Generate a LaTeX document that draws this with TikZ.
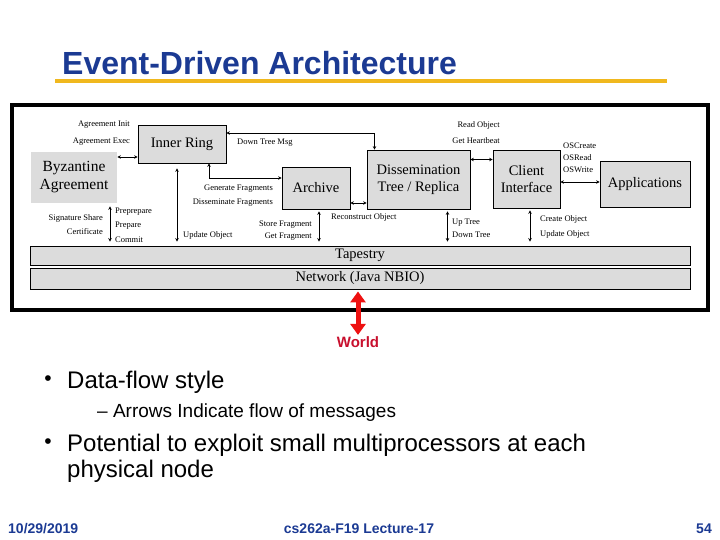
\documentclass[tikz,border=0pt]{standalone}
\usepackage{fontspec}
\setmainfont{Liberation Serif}
\newfontfamily\slidefont{Liberation Sans}
\usetikzlibrary{arrows.meta,positioning}
\definecolor{SlideNavy}{HTML}{1B3A93}
\definecolor{SlideGold}{HTML}{F0B81E}
\definecolor{BoxGray}{HTML}{DCDCDC}
\definecolor{WorldRed}{HTML}{EE1111}
\definecolor{WorldText}{HTML}{C8102E}
\tikzset{
    % grey component boxes
    module/.style={
        rectangle,
        draw=black,
        line width=0.7pt,
        fill=BoxGray,
        inner sep=0pt,
        align=center,
        font=\fontsize{14.5}{17}\selectfont
    },
    module plain/.style={
        module,
        draw=none
    },
    layer/.style={
        module,
        line width=0.9pt
    },
    msg label/.style={
        inner sep=0pt,
        font=\fontsize{8.5}{10}\selectfont
    },
    msg/.style={
        {Stealth[length=3.5pt,width=3.5pt]}-{Stealth[length=3.5pt,width=3.5pt]},
        line width=0.6pt
    },
    world arrow/.style={
        {Triangle[length=11pt,width=15pt]}-{Triangle[length=11pt,width=15pt]},
        line width=5pt,
        color=WorldRed
    },
    bullet dot/.style={
        inner sep=0pt,
        font=\slidefont\fontsize{21}{24}\selectfont
    },
    bullet text/.style={
        anchor=base west,
        inner sep=0pt,
        font=\slidefont\fontsize{24}{28}\selectfont
    },
    sub bullet text/.style={
        bullet text,
        font=\slidefont\fontsize{19}{23}\selectfont
    },
    footer/.style={
        anchor=base,
        inner sep=0pt,
        text=SlideNavy,
        font=\slidefont\bfseries\fontsize{14}{16}\selectfont
    }
}

\begin{document}
\begin{tikzpicture}[x=1pt, y=-1pt]
    \useasboundingbox (0,0) rectangle (720,540);

    % Title
    \node[anchor=base west, inner sep=0pt, text=SlideNavy,
          font=\slidefont\bfseries\fontsize{32}{36}\selectfont] (title) at (62,75)
          {Event-Driven Architecture};
    \draw[SlideGold, line width=4pt] (55,81) -- (667,81);

    % Diagram frame
    \draw[line width=4pt] (12,105) rectangle (708,310);

    % Components
    \node[module, minimum width=88pt, minimum height=38pt] (inner) at (182,144) {Inner Ring};
    \node[module plain, minimum width=86pt, minimum height=51pt,
          font=\fontsize{15.5}{18}\selectfont] (byz) at (74,177.5) {Byzantine\\Agreement};
    \node[module, minimum width=68pt, minimum height=42pt] (archive) at (316,188) {Archive};
    \node[module, minimum width=103pt, minimum height=59pt] (diss) at (418.5,179.5)
          {Dissemination\\Tree / Replica};
    \node[module, minimum width=67pt, minimum height=58pt] (client) at (526.5,179) {Client\\Interface};
    \node[module, minimum width=90pt, minimum height=46pt] (apps) at (645,184) {Applications};

    % Layers
    \node[layer, minimum width=660pt, minimum height=19pt] (tapestry) at (360,255.5) {Tapestry};
    \node[layer, minimum width=660pt, minimum height=21pt] (network) at (360,278.5) {Network (Java NBIO)};

    % Messages between components
    \draw[msg] ([yshift=-13pt]inner.west) -- ([yshift=-13pt]inner.west -| byz.east);
    \draw[msg] ([xshift=27pt]inner.south) |- ([yshift=10pt]archive.west);
    \draw[msg] ([xshift=-44pt]diss.north) |- ([yshift=11pt]inner.east);
    \draw[msg] ([yshift=-15pt]archive.east) -- ([yshift=-15pt]archive.east -| diss.west);
    \draw[msg] ([yshift=20pt]diss.east) -- ([yshift=20pt]diss.east -| client.west);
    \draw[msg] ([yshift=-3pt]client.east) -- ([yshift=-3pt]client.east -| apps.west);

    % Messages down to Tapestry
    \draw[msg, shorten <=3pt, shorten >=4pt] ([xshift=36pt]byz.south) -- ([xshift=36pt]byz.south |- tapestry.north);
    \draw[msg, shorten <=5pt, shorten >=4pt] ([xshift=-5pt]inner.south) -- ([xshift=-5pt]inner.south |- tapestry.north);
    \draw[msg, shorten <=2pt, shorten >=4pt] ([xshift=3pt]archive.south) -- ([xshift=3pt]archive.south |- tapestry.north);
    \draw[msg, shorten <=2pt, shorten >=4pt] ([xshift=29pt]diss.south) -- ([xshift=29pt]diss.south |- tapestry.north);
    \draw[msg, shorten <=2pt, shorten >=4pt] ([xshift=3.5pt]client.south) -- ([xshift=3.5pt]client.south |- tapestry.north);

    % Message labels
    \node[msg label, anchor=east] (agInit) at (130,125) {Agreement Init};
    \node[msg label, anchor=east] (agExec) at (130,142) {Agreement Exec};
    \node[msg label, anchor=east] (sigShare) at (103,218) {Signature Share};
    \node[msg label, anchor=east] (cert) at (103,232) {Certificate};
    \node[msg label, anchor=west] (prePrep) at (115,212) {Preprepare};
    \node[msg label, anchor=west] (prep) at (115,226) {Prepare};
    \node[msg label, anchor=west] (commit) at (115,240) {Commit};
    \node[msg label, anchor=west] (updRing) at (183,235) {Update Object};
    \node[msg label, anchor=east] (genFrag) at (273,189) {Generate Fragments};
    \node[msg label, anchor=east] (dissFrag) at (273,203) {Disseminate Fragments};
    \node[msg label, anchor=west] (downMsg) at (237,143) {Down Tree Msg};
    \node[msg label, anchor=east] (storeFrag) at (312,225) {Store Fragment};
    \node[msg label, anchor=east] (getFrag) at (312,237) {Get Fragment};
    \node[msg label, anchor=west] (recon) at (331,217) {Reconstruct Object};
    \node[msg label, anchor=east] (readObj) at (500,125) {Read Object};
    \node[msg label, anchor=east] (heartbeat) at (500,141) {Get Heartbeat};
    \node[msg label, anchor=west] (upTree) at (452,223) {Up Tree};
    \node[msg label, anchor=west] (downTree) at (452,235) {Down Tree};
    \node[msg label, anchor=west] (osCreate) at (563,146) {OSCreate};
    \node[msg label, anchor=west] (osRead) at (563,158) {OSRead};
    \node[msg label, anchor=west] (osWrite) at (563,170) {OSWrite};
    \node[msg label, anchor=west] (createObj) at (540,219) {Create Object};
    \node[msg label, anchor=west] (updClient) at (540,234) {Update Object};

    % Outside world
    \node[anchor=base, inner sep=0pt, text=WorldText,
          font=\slidefont\bfseries\fontsize{15}{18}\selectfont] (world) at (358,347) {World};
    \draw[world arrow, shorten <=2pt, shorten >=1pt] (network.south -| world) -- (world.north);

    % Bullets
    \node[bullet dot] (dot1) at (48,381) {•};
    \node[bullet text] (b1) at (67,388) {Data-flow style};
    \node[sub bullet text] (b1a) at (97,417) {– Arrows Indicate flow of messages};
    \node[bullet dot] (dot2) at (48,444) {•};
    \node[bullet text] (b2) at (67,451) {Potential to exploit small multiprocessors at each};
    \node[bullet text] (b2b) at (67,477) {physical node};

    % Footer
    \node[footer, anchor=base west] (date) at (8,533) {10/29/2019};
    \node[footer] (course) at (359,533) {cs262a-F19 Lecture-17};
    \node[footer, anchor=base east] (page) at (712,533) {54};
\end{tikzpicture}
\end{document}
